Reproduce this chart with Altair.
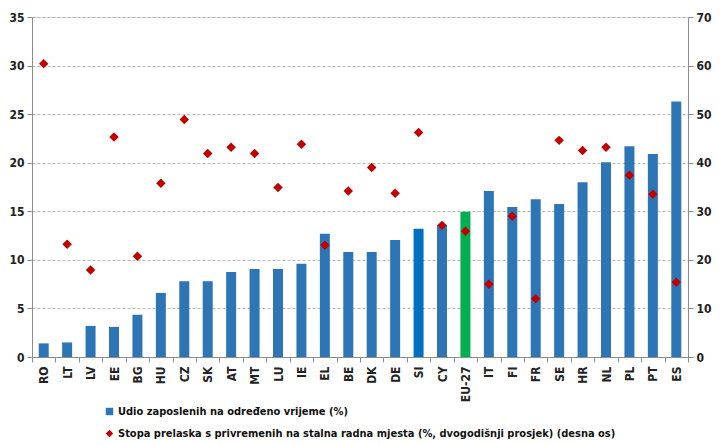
import altair as alt
import pandas as pd

countries = ["RO", "LT", "LV", "EE", "BG", "HU", "CZ", "SK", "AT", "MT", "LU", "IE", "EL", "BE",
             "DK", "DE", "SI", "CY", "EU-27", "IT", "FI", "FR", "SE", "HR", "NL", "PL", "PT", "ES"]
temp_share = [1.4, 1.5, 3.2, 3.1, 4.35, 6.6, 7.8, 7.8, 8.75, 9.05, 9.05, 9.6, 12.7, 10.8,
              10.8, 12.05, 13.2, 13.55, 14.95, 17.1, 15.45, 16.25, 15.75, 18.0, 20.05, 21.7, 20.9, 26.3]
transition = [60.4, 23.2, 17.9, 45.3, 20.75, 35.75, 48.9, 41.9, 43.2, 41.9, 34.9, 43.8, 23.0, 34.2,
              39.0, 33.7, 46.2, 27.1, 25.9, 15.0, 29.0, 12.0, 44.6, 42.5, 43.2, 37.4, 33.5, 15.4]
bar_colors = ["#2E75B6"] * 28
bar_colors[countries.index("SI")] = "#0070C0"
bar_colors[countries.index("EU-27")] = "#00B050"

s_bar = "Udio zaposlenih na određeno vrijeme (%)"
s_pt = "Stopa prelaska s privremenih na stalna radna mjesta (%, dvogodišnji prosjek) (desna os)"

df = pd.DataFrame({"country": countries, "share": temp_share, "trans": transition,
                   "barcol": bar_colors, "series": s_pt})

FONT = "'DejaVu Sans Condensed', 'Liberation Sans Narrow', 'Roboto Condensed', sans-serif"
GRAY = "#8c8c8c"

x = alt.X("country:N", sort=countries, title=None,
          scale=alt.Scale(paddingInner=0, paddingOuter=0),
          axis=alt.Axis(labelAngle=270, labelFont=FONT, labelFontWeight="bold", labelFontSize=12,
                        labelColor="#222222", labelPadding=4, tickBand="extent", tickColor=GRAY,
                        domainColor=GRAY, tickSize=5, labelAlign="right", labelBaseline="middle"))

bars = alt.Chart(df).mark_bar(size=10).encode(
    x=x,
    y=alt.Y("share:Q", title=None,
            scale=alt.Scale(domain=[0, 35]),
            axis=alt.Axis(values=list(range(0, 36, 5)), labelFont=FONT, labelFontWeight="bold",
                          labelFontSize=12, labelColor="#222222", domainColor=GRAY, tickColor=GRAY,
                          tickSize=5, gridColor="#a6a6a6", gridDash=[3, 2], gridWidth=0.8,
                          labelPadding=3)),
    fill=alt.Fill("barcol:N", scale=None),
)

points = alt.Chart(df).mark_point(filled=True, size=90, opacity=1).encode(
    x=x,
    y=alt.Y("trans:Q", title=None,
            scale=alt.Scale(domain=[0, 70]),
            axis=alt.Axis(orient="right", values=list(range(0, 71, 10)), labelFont=FONT,
                          labelFontWeight="bold", labelFontSize=12, labelColor="#222222",
                          domainColor=GRAY, tickColor=GRAY, tickSize=5, grid=False, labelPadding=3)),
    color=alt.Color("series:N", title=None,
                    scale=alt.Scale(domain=[s_bar, s_pt], range=["#2E75B6", "#C00000"]),
                    legend=alt.Legend(orient="none", legendX=72, legendY=389, direction="vertical",
                                      labelFont=FONT, labelFontWeight="bold", labelFontSize=11,
                                      labelColor="#111111", symbolSize=55, rowPadding=10,
                                      labelOffset=3, labelLimit=700, symbolStrokeWidth=0)),
    shape=alt.Shape("series:N", title=None,
                    scale=alt.Scale(domain=[s_bar, s_pt], range=["square", "diamond"])),
)

chart = alt.layer(bars, points).resolve_scale(y="independent").properties(
    width=656, height=340,
    autosize=alt.AutoSizeParams(type="none"),
    padding={"left": 24, "top": 9, "right": 26, "bottom": 92},
).configure_view(stroke=None).configure(background="white")

chart.save("out.html", embed_options={"renderer": "svg", "actions": False})
